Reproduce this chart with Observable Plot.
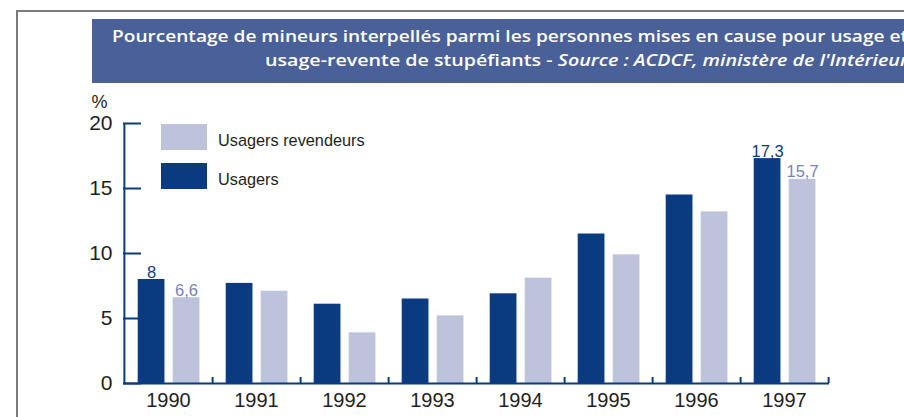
<!DOCTYPE html>
<html>
<head>
<meta charset="utf-8">
<script src="https://cdn.jsdelivr.net/npm/d3@7"></script>
<script src="https://cdn.jsdelivr.net/npm/@observablehq/plot@0.6"></script>
<style>
  html, body { margin: 0; padding: 0; background: #fff; }
  #wrap { position: relative; width: 904px; height: 417px; overflow: hidden; background: #fff; }
  #chart { position: absolute; left: 0; top: 0; }
  .frameTop { position: absolute; left: 16px; top: 10px; width: 900px; height: 2px; background: #7a7a7a; }
  .frameLeft { position: absolute; left: 16px; top: 10px; width: 2px; height: 420px; background: #7a7a7a; }
  .banner { position: absolute; left: 92px; top: 19px; width: 830px; height: 64px; background: #4a6098; }
  #titleSvg { position: absolute; left: 0; top: 0; }
  .legend { position: absolute; font-family: "Liberation Sans", Arial, sans-serif; font-size: 16.3px; color: #231f20; }
  .sw { position: absolute; width: 46px; height: 26px; }
  .lab { position: absolute; line-height: 20px; white-space: nowrap; }
</style>
</head>
<body>
<div id="wrap">
  <div id="chart"></div>
  <div class="frameTop"></div>
  <div class="frameLeft"></div>
  <div class="banner"></div>
  <svg id="titleSvg" width="904" height="90"></svg>
  <div class="legend" id="legend"></div>
</div>
<script>
// ---- Data ----
const years = ["1990", "1991", "1992", "1993", "1994", "1995", "1996", "1997"];
const usagers = [8, 7.7, 6.1, 6.5, 6.9, 11.5, 14.5, 17.3];
const revendeurs = [6.6, 7.1, 3.9, 5.2, 8.1, 9.9, 13.2, 15.7];
const labeledYears = ["1990", "1997"];
const yTicks = [0, 5, 10, 15, 20];
const seriesNames = ["Usagers revendeurs", "Usagers"];
const titleLine1 = "Pourcentage de mineurs interpellés parmi les personnes mises en cause pour usage et";
const titleLine2a = "usage-revente de stupéfiants - ";
const titleLine2b = "Source : ACDCF, ministère de l'Intérieur";

// ---- Styles ----
const dark = "#0a3a80";
const light = "#bec3dc";
const lightText = "#7682bb";
const ink = "#231f20";

const rows = years.map((y, i) => ({year: y, usagers: usagers[i], revendeurs: revendeurs[i]}));
const labeled = rows.filter(r => labeledYears.includes(r.year));
const fmt = v => String(v).replace(".", ",");

const W = 904, H = 417, mL = 123, mR = 75, mT = 123, mB = 34;
const bw = (W - mL - mR) / years.length;
const plotH = H - mT - mB;

const chart = Plot.plot({
  width: W,
  height: H,
  marginLeft: mL,
  marginRight: mR,
  marginTop: mT,
  marginBottom: mB,
  style: {fontFamily: "Liberation Sans, Arial, sans-serif", background: "transparent", color: ink},
  x: {domain: years, padding: 0, label: null},
  y: {domain: [0, 20], label: null},
  marks: [
    Plot.barY(rows, {x: "year", y: "usagers", fill: dark, insetLeft: 13.7, insetRight: bw - 13.7 - 27}),
    Plot.barY(rows, {x: "year", y: "revendeurs", fill: light, insetLeft: 48.7, insetRight: bw - 48.7 - 27}),
    Plot.tickY(yTicks, {y: d => d, stroke: dark, strokeWidth: 2, insetRight: (W - mL - mR) - 18}),
    Plot.ruleX([years[0]], {x: d => d, dx: -bw / 2, y1: 0, y2: 20, stroke: dark, strokeWidth: 2}),
    Plot.ruleX(years, {x: d => d, dx: bw / 2, insetTop: plotH - 6, stroke: dark, strokeWidth: 2}),
    Plot.ruleY([0], {stroke: dark, strokeWidth: 2}),
    Plot.axisY(yTicks, {tickSize: 0, tickPadding: 11, fontSize: 21, label: null, fill: ink}),
    Plot.axisX({tickSize: 0, tickPadding: 9, fontSize: 20, label: null, fill: ink}),
    Plot.text(labeled, {x: "year", y: "usagers", text: d => fmt(d.usagers), dx: -bw / 2 + 13.7 + 13.5, dy: -2, lineAnchor: "bottom", fill: dark, fontSize: 16.5}),
    Plot.text(labeled, {x: "year", y: "revendeurs", text: d => fmt(d.revendeurs), dx: -bw / 2 + 48.7 + 13.5, dy: -2, lineAnchor: "bottom", fill: lightText, fontSize: 16.5}),
    Plot.text(["%"], {frameAnchor: "top-left", text: d => d, dx: -24, dy: -21, textAnchor: "middle", lineAnchor: "middle", fontSize: 18, fill: ink})
  ]
});
document.getElementById("chart").appendChild(chart);

// ---- Title ----
const ts = d3.select("#titleSvg");
const tStyle = t => t.attr("fill", "#fff").attr("font-family", "Open Sans, sans-serif").attr("font-weight", 600).attr("font-size", 17).attr("lengthAdjust", "spacingAndGlyphs");
ts.append("text").call(tStyle).attr("x", 112).attr("y", 42).attr("textLength", 796).text(titleLine1);
const t2 = ts.append("text").call(tStyle).attr("x", 265).attr("y", 66).attr("textLength", 643);
t2.append("tspan").text(titleLine2a);
t2.append("tspan").attr("font-style", "italic").text(titleLine2b);

// ---- Legend ----
const legend = d3.select("#legend");
const legendColors = [light, dark];
seriesNames.forEach((name, i) => {
  legend.append("div").attr("class", "sw").style("left", "161px").style("top", (124 + i * 39) + "px").style("background", legendColors[i]);
  legend.append("div").attr("class", "lab").style("left", "218px").style("top", (130 + i * 39) + "px").text(name);
});
</script>
</body>
</html>
